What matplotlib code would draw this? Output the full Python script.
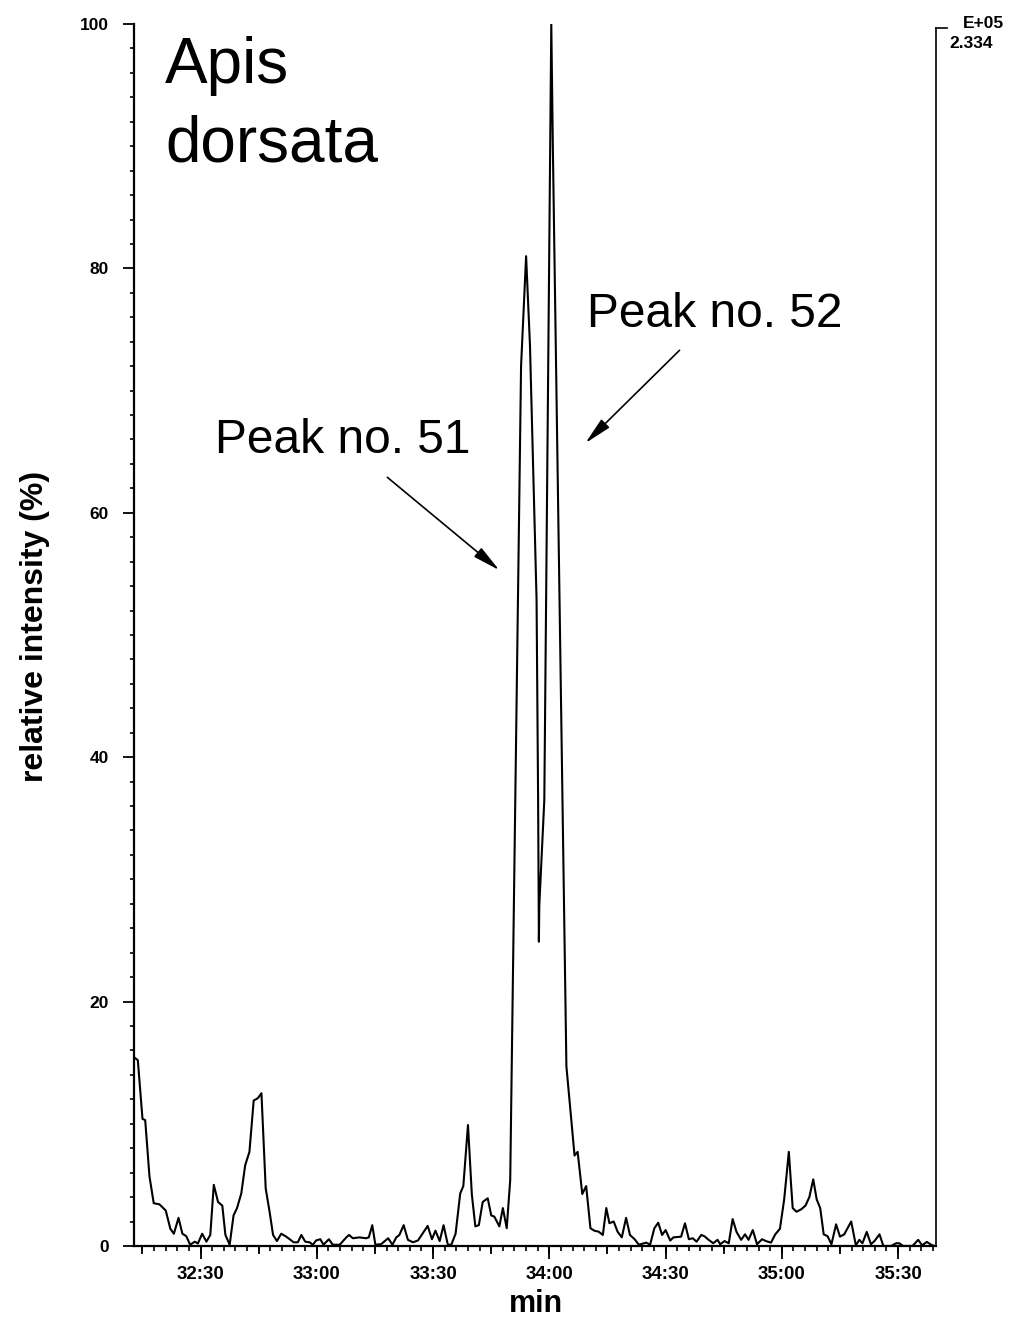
import numpy as np
import matplotlib
matplotlib.use('Agg')
import matplotlib.pyplot as plt
from matplotlib.ticker import MultipleLocator, FuncFormatter

plt.rcParams['font.family'] = ['Liberation Sans', 'DejaVu Sans']
plt.rcParams['font.weight'] = 'bold'

# retention time (s) and relative intensity (%)
t_sec = [1933.0, 1933.8, 1935.0, 1935.7, 1936.8, 1937.9, 1939.4, 1941.0, 1942.2, 1943.1,
         1944.3, 1945.3, 1946.3, 1947.3, 1948.5, 1949.3, 1950.4, 1951.5, 1952.5, 1953.4,
         1954.5, 1955.6, 1956.4, 1957.5, 1958.5, 1959.4, 1960.5, 1961.5, 1962.6, 1963.7,
         1964.8, 1965.7, 1966.8, 1967.8, 1968.7, 1969.7, 1970.8, 1971.9, 1973.0, 1974.0,
         1975.1, 1976.0, 1977.0, 1978.1, 1979.0, 1979.8, 1980.9, 1981.7, 1983.1, 1984.1,
         1985.9, 1987.6, 1988.3, 1989.3, 1991.0, 1992.7, 1993.4, 1994.3, 1995.1, 1996.6,
         1998.4, 1999.5, 2000.5, 2001.3, 2002.4, 2003.5, 2004.8, 2006.1, 2008.6, 2009.7,
         2010.6, 2011.7, 2012.7, 2013.8, 2014.7, 2015.8, 2017.0, 2017.8, 2019.0, 2020.0,
         2020.9, 2021.8, 2022.8, 2024.1, 2025.0, 2025.8, 2027.1, 2028.0, 2029.0, 2029.9,
         2032.7, 2034.0, 2035.0, 2036.7, 2037.1, 2037.3, 2037.4, 2038.7, 2040.5, 2040.9,
         2044.4, 2046.5, 2047.3, 2048.5, 2049.5, 2050.6, 2051.6, 2052.7, 2053.8, 2054.7,
         2055.5, 2056.6, 2057.6, 2058.7, 2059.8, 2060.8, 2062.0, 2063.1, 2065.0, 2066.0,
         2067.1, 2068.1, 2069.1, 2070.0, 2071.2, 2072.0, 2074.0, 2075.0, 2076.0, 2077.0,
         2078.0, 2079.2, 2080.0, 2081.1, 2082.3, 2083.4, 2084.1, 2085.2, 2086.3, 2087.3,
         2088.3, 2089.5, 2090.5, 2091.4, 2092.5, 2093.6, 2094.9, 2095.9, 2097.2, 2098.3,
         2099.5, 2100.6, 2101.8, 2102.8, 2103.8, 2105.0, 2106.1, 2107.1, 2108.1, 2109.0,
         2109.9, 2110.8, 2111.8, 2112.8, 2114.0, 2115.0, 2116.1, 2117.9, 2119.1, 2120.0,
         2120.8, 2121.9, 2123.0, 2123.9, 2125.2, 2126.2, 2128.2, 2129.5, 2130.3, 2131.3,
         2133.7, 2135.2, 2136.2, 2137.4, 2138.8, 2139.5]
rel_int = [15.4, 15.2, 10.4, 10.3, 5.7, 3.5, 3.4, 2.9, 1.4, 1.0,
           2.3, 1.0, 0.8, 0.1, 0.35, 0.2, 1.0, 0.35, 0.9, 5.0,
           3.6, 3.3, 0.9, 0.1, 2.5, 3.1, 4.3, 6.6, 7.7, 11.9,
           12.1, 12.5, 4.7, 2.8, 0.9, 0.4, 1.0, 0.8, 0.55, 0.3,
           0.3, 0.9, 0.35, 0.3, 0.1, 0.45, 0.55, 0.1, 0.55, 0.1,
           0.1, 0.7, 0.9, 0.63, 0.7, 0.63, 0.7, 1.7, 0.1, 0.15,
           0.63, 0.1, 0.7, 0.9, 1.7, 0.5, 0.3, 0.45, 1.64, 0.55,
           1.25, 0.4, 1.7, 0.1, 0.1, 1.0, 4.3, 4.9, 9.9, 4.2,
           1.6, 1.7, 3.6, 3.9, 2.5, 2.4, 1.6, 3.1, 1.45, 5.4,
           72.0, 81.0, 73.7, 52.9, 36.5, 24.9, 27.8, 36.5, 100.0, 90.0,
           14.7, 7.4, 7.7, 4.25, 4.9, 1.45, 1.25, 1.17, 0.9, 3.1,
           1.86, 2.0, 1.17, 0.7, 2.3, 0.9, 0.55, 0.1, 0.27, 0.1,
           1.45, 1.9, 0.9, 1.3, 0.44, 0.7, 0.76, 1.85, 0.55, 0.63,
           0.35, 0.9, 0.8, 0.5, 0.22, 0.5, 0.14, 0.4, 0.22, 2.2,
           1.15, 0.5, 0.95, 0.5, 1.3, 0.14, 0.55, 0.4, 0.27, 0.95,
           1.4, 3.8, 7.7, 3.1, 2.8, 3.0, 3.3, 4.0, 5.45, 3.8,
           3.1, 0.95, 0.8, 0.14, 1.77, 0.76, 0.95, 2.0, 0.05, 0.5,
           0.22, 1.15, 0.14, 0.4, 0.95, 0.0, 0.0, 0.22, 0.22, 0.0,
           0.0, 0.5, 0.05, 0.33, 0.05, 0.0]

x_range = (1932.8, 2139.7)
y_ticks = [0, 20, 40, 60, 80, 100]

def mmss(x, pos):
    s = int(round(x))
    return f'{s // 60}:{s % 60:02d}'

fig = plt.figure(figsize=(10.11, 13.2), dpi=100)
ax = fig.add_axes([0.1325, 0.0561, 0.7930, 0.9257])
ax.plot(t_sec, rel_int, color='black', lw=1.5)
ax.set_xlim(*x_range)
ax.set_ylim(0, 100)

ax.spines['top'].set_visible(False)
ax.spines['left'].set_linewidth(1.6)
ax.spines['bottom'].set_linewidth(1.6)
ax.spines['right'].set_linewidth(1.2)
ax.spines['right'].set_bounds(0, 99.7)

# x ticks: labelled every 30 s, minor every 3 s, medium every 15 s
ax.xaxis.set_major_locator(MultipleLocator(30))
ax.xaxis.set_minor_locator(MultipleLocator(3))
ax.xaxis.set_major_formatter(FuncFormatter(mmss))
ax.tick_params(axis='x', which='major', length=9.5, width=1.3, pad=5, labelsize=13.5)
ax.tick_params(axis='x', which='minor', length=3.8, width=1.2)
sec = ax.secondary_xaxis('bottom')
sec.xaxis.set_major_locator(MultipleLocator(15))
sec.tick_params(length=6, width=1.3, labelbottom=False)
sec.spines['bottom'].set_visible(False)

ax.set_yticks(y_ticks)
ax.yaxis.set_minor_locator(MultipleLocator(2))
ax.tick_params(axis='y', which='major', length=8, width=1.3, pad=10, labelsize=12.5)
ax.tick_params(axis='y', which='minor', length=3.2, width=1.2)

# scale marker at top of right axis
ax.plot([1.0, 1.014], [0.997, 0.997], transform=ax.transAxes, clip_on=False,
        color='black', lw=1.2)
fig.text(963 / 1011, 1 - 28 / 1320, 'E+05', fontsize=12.5, va='baseline')
fig.text(949 / 1011, 1 - 48 / 1320, '2.334', fontsize=12.5, va='baseline')

fig.text(35 / 1011, 1 - 626 / 1320, 'relative intensity (%)', rotation=90,
         ha='center', va='center', fontsize=23)
fig.text(536 / 1011, 1 - 1312 / 1320, 'min', ha='center', va='baseline', fontsize=22)

fig.text(165 / 1011, 1 - 83 / 1320, 'Apis', fontsize=46, fontweight='normal', va='baseline')
fig.text(165 / 1011, 1 - 162 / 1320, 'dorsata', fontsize=46, fontweight='normal', va='baseline')

ax.text(1953.6, 64.9, 'Peak no. 51', fontsize=34.5, fontweight='normal', va='baseline')
ax.text(2049.8, 75.2, 'Peak no. 52', fontsize=34.5, fontweight='normal', va='baseline')
arrow = dict(arrowstyle='-|>,head_length=1.2,head_width=0.25', color='black', lw=1.2,
             shrinkA=0, shrinkB=0, mutation_scale=14)
ax.annotate('', xy=(2027.1, 55.3), xytext=(1998.2, 62.9), arrowprops=arrow)
ax.annotate('', xy=(2049.3, 65.7), xytext=(2073.6, 73.3), arrowprops=arrow)

fig.savefig('out.png', dpi=100)
